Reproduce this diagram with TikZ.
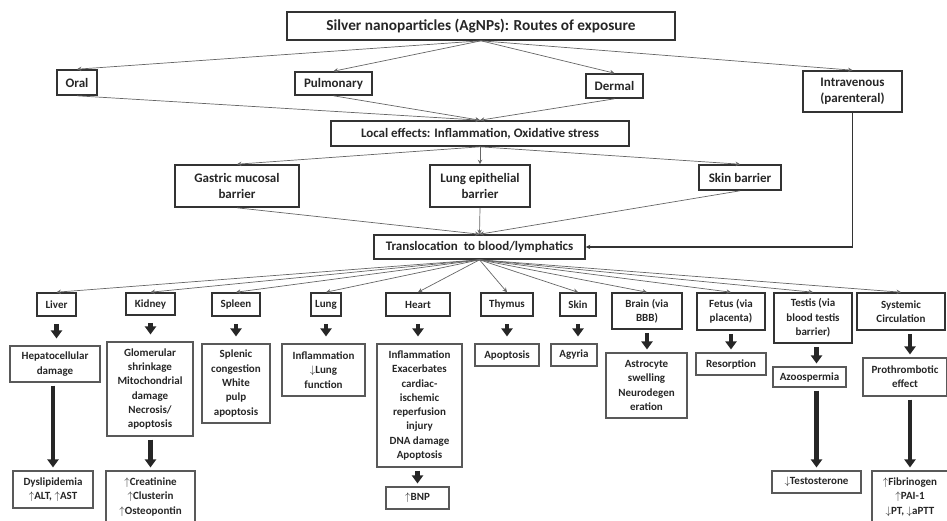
\documentclass[tikz,border=0pt]{standalone}
\usepackage{fontspec}
\setmainfont{Carlito}
\usetikzlibrary{arrows.meta,positioning}

\begin{document}
\begin{tikzpicture}[x=1pt, y=-1pt,
  box/.style={draw=black!80, line width=1.6pt, inner sep=0pt, align=center,
              text=black!85, font=\bfseries\fontsize{13}{15.7}\selectfont},
  organ/.style={box, font=\bfseries\fontsize{11}{14.3}\selectfont},
  effect/.style={organ, draw=black!65, line width=1.1pt},
  arrow/.style={-{Stealth[length=4.5pt,width=4.5pt]}, draw=black!60, line width=.7pt},
  fat/.style={-{Triangle[length=8pt,width=11pt]}, line width=4.5pt, draw=black!85,
              shorten <=3pt, shorten >=3pt},
]
  \useasboundingbox (0,0) rectangle (947,520);

  % routes of exposure
  \node[box, minimum width=388, minimum height=28, font=\bfseries\fontsize{15.3}{18}\selectfont]
    (top) at (481,26) {Silver nanoparticles (AgNPs): Routes of exposure};
  \node[box, minimum width=40, minimum height=25] (oral) at (77,82.5) {Oral};
  \node[box, minimum width=77, minimum height=23] (pulm) at (333.5,83.5) {Pulmonary};
  \node[box, minimum width=57, minimum height=24] (derm) at (614.5,86) {Dermal};
  \node[box, minimum width=99, minimum height=41] (iv) at (852.5,91.5) {Intravenous\\(parenteral)};

  \node[box, minimum width=298, minimum height=25] (local) at (480,133.5)
    {Local effects: Inflammation, Oxidative stress};
  \node[box, minimum width=124, minimum height=42] (gast) at (237,186) {Gastric mucosal\\barrier};
  \node[box, minimum width=100, minimum height=42] (lepi) at (480,186) {Lung epithelial\\barrier};
  \node[box, minimum width=82, minimum height=25] (skb) at (740,177.5) {Skin barrier};
  \node[box, minimum width=211, minimum height=24] (trans) at (479.5,247)
    {Translocation \ to blood/lymphatics};

  % target organs
  \node[organ, minimum width=39, minimum height=23] (liver) at (56.5,304.5) {Liver};
  \node[organ, minimum width=49, minimum height=22] (kidney) at (150.5,304) {Kidney};
  \node[organ, minimum width=48, minimum height=23] (spleen) at (236,304.5) {Spleen};
  \node[organ, minimum width=30, minimum height=23] (lung) at (326,304.5) {Lung};
  \node[organ, minimum width=64, minimum height=23] (heart) at (418,304.5) {Heart};
  \node[organ, minimum width=52, minimum height=23] (thymus) at (507,304.5) {Thymus};
  \node[organ, minimum width=36, minimum height=23] (skin) at (578,304.5) {Skin};
  \node[organ, minimum width=70, minimum height=36] (brain) at (647,311) {Brain (via\\BBB)};
  \node[organ, minimum width=68, minimum height=37] (fetus) at (731,311.5) {Fetus (via\\placenta)};
  \node[organ, minimum width=78, minimum height=50] (testis) at (813,318) {Testis (via\\blood testis\\barrier)};
  \node[organ, minimum width=88, minimum height=37] (sysc) at (901,311.5) {Systemic\\Circulation};

  % effects
  \node[effect, minimum width=90, minimum height=36] (hep) at (55,364) {Hepatocellular\\damage};
  \node[effect, minimum width=86, minimum height=94] (glom) at (150,389)
    {Glomerular\\shrinkage\\Mitochondrial\\damage\\Necrosis/\\apoptosis};
  \node[effect, minimum width=68, minimum height=79] (splen) at (236,383.5)
    {Splenic\\congestion\\White\\pulp\\apoptosis};
  \node[effect, minimum width=83, minimum height=52] (influng) at (323.5,370)
    {Inflammation\\$\downarrow$Lung\\function};
  \node[effect, minimum width=85, minimum height=123] (hrteff) at (419.5,405.5)
    {Inflammation\\Exacerbates\\cardiac-\\ischemic\\reperfusion\\injury\\DNA damage\\Apoptosis};
  \node[effect, minimum width=64, minimum height=22] (apop) at (507,355) {Apoptosis};
  \node[effect, minimum width=46, minimum height=22] (agy) at (574,355) {Agyria};
  \node[effect, minimum width=81, minimum height=65] (astro) at (646.5,385.5)
    {Astrocyte\\swelling\\Neurodegen\\eration};
  \node[effect, minimum width=70, minimum height=22] (resor) at (731,364) {Resorption};
  \node[effect, minimum width=73, minimum height=20] (azoo) at (809.5,377) {Azoospermia};
  \node[effect, minimum width=84, minimum height=38] (proth) at (905,377) {Prothrombotic\\effect};

  \node[effect, minimum width=80, minimum height=37] (dysl) at (53,489.5)
    {Dyslipidemia\\$\uparrow$ALT, $\uparrow$AST};
  \node[effect, minimum width=89, minimum height=52] (creat) at (150.5,497)
    {$\uparrow$Creatinine\\$\uparrow$Clusterin\\$\uparrow$Osteopontin};
  \node[effect, minimum width=63, minimum height=22] (bnp) at (417.5,498) {$\uparrow$BNP};
  \node[effect, minimum width=89, minimum height=22] (testo) at (816.5,482) {$\downarrow$Testosterone};
  \node[effect, minimum width=76, minimum height=52] (fibr) at (910,497)
    {$\uparrow$Fibrinogen\\$\uparrow$PAI-1\\$\downarrow$PT, $\downarrow$aPTT};

  % thin connectors
  \foreach \n in {oral,pulm,derm,iv}
    \draw[arrow] (top.south) -- (\n.north);
  \foreach \n in {oral,pulm,derm}
    \draw[arrow] (\n.south) -- (local.north);
  \foreach \n in {gast,lepi,skb} {
    \draw[arrow] (local.south) -- (\n.north);
    \draw[arrow] (\n.south) -- (trans.north);
  }
  \draw[arrow, draw=black!80, line width=1.1pt] (iv.south) |- (trans.east);
  \foreach \n in {liver,kidney,spleen,lung,heart,thymus,skin,brain,fetus,testis,sysc}
    \draw[arrow] (trans.south) -- (\n.north);

  % thick arrows
  \foreach \a/\b in {liver/hep,kidney/glom,spleen/splen,lung/influng,heart/hrteff,thymus/apop,skin/agy}
    \draw[fat, shorten <=7pt, shorten >=7pt] (\a.south) -- (\a.south |- \b.north);
  \draw[fat] (brain.south) -- (brain.south |- astro.north);
  \draw[fat] (fetus.south) -- (fetus.south |- resor.north);
  \draw[fat] (testis.south -| testo.north) -- (azoo.north -| testo.north);
  \draw[fat] (sysc.south -| fibr.north) -- (proth.north -| fibr.north);
  \foreach \a/\b in {hep/dysl,glom/creat,hrteff/bnp,azoo/testo,proth/fibr}
    \draw[fat] (\a.south -| \b.north) -- (\b.north);
\end{tikzpicture}
\end{document}
